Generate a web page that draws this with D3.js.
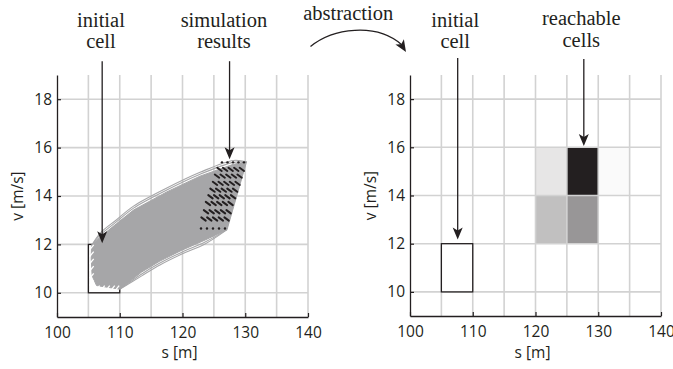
<!DOCTYPE html>
<html><head><meta charset="utf-8">
<script src="https://cdn.jsdelivr.net/npm/d3@7"></script>
<style>body{margin:0;background:#fff}</style>
</head><body>
<svg id="c" width="673" height="369"></svg>
<script>
// ---------- data ----------
const sTicks = [100, 110, 120, 130, 140];
const vTicks = [10, 12, 14, 16, 18];
const sGrid = [105, 110, 115, 120, 125, 130, 135, 140];
const sDomain = [100, 140];
const vDomain = [9, 19];
const initialCellS = [105, 110];
const initialCellV = [10, 12];

// envelope of simulated trajectories
const bandUpperS = [105.5, 106.9, 109.5, 112.2, 117.5, 122.8, 128.1, 130.2];
const bandUpperV = [11.95, 12.31, 12.86, 13.42, 14.17, 14.82, 15.31, 15.41];
const bandLowerS = [127.1, 123.6, 119.9, 116.4, 113.5, 110.0];
const bandLowerV = [12.61, 12.18, 11.76, 11.31, 10.86, 10.15];
const bandCornerS = [106.3, 105.6, 105.45];
const bandCornerV = [10.3, 10.7, 11.4];
const strandOffsets = [0.08, 0.16];
const hatchLeftV = [10.3, 10.6, 10.9, 11.2, 11.5, 11.78];
const hatchBottomS = [105.4, 106.2, 107.0, 107.8, 108.6, 109.3];

// simulation end points: rows of velocity, s values per row
const finalRowV = [15.39, 15.10, 14.82, 14.52, 14.24, 13.97, 13.69, 13.35, 13.05, 12.66];
const finalRowS = [
  [126.29, 127.17, 128.05, 128.92, 129.80],
  [125.90, 126.79, 127.68, 128.57, 129.46],
  [125.50, 126.40, 127.30, 128.20, 129.10],
  [125.18, 126.08, 126.98, 127.88, 128.78],
  [124.78, 125.68, 126.58, 127.48, 128.38],
  [124.46, 125.36, 126.26, 127.16, 128.06],
  [124.06, 124.96, 125.86, 126.76, 127.66],
  [123.75, 124.65, 125.55, 126.45, 127.35],
  [123.35, 124.27, 125.19, 126.11, 127.03],
  [122.95, 123.90, 124.86, 125.82, 126.77]
];

// reachable cells (abstraction)
const reachS = [120, 125, 130, 120, 125];
const reachV = [14, 14, 14, 12, 12];
const reachP = [0.055, 0.50, 0.012, 0.141, 0.234];

// annotations
const leftArrowS = [107.2, 127.5];
const leftArrowTopV = [19.57, 19.57];
const leftArrowTipV = [12.05, 15.52];
const rightArrowS = [107.6, 127.7];
const rightArrowTopV = [19.71, 19.66];
const rightArrowTipV = [12.17, 16.05];
const leftLabels = [["initial", "cell"], ["simulation", "results"]];
const rightLabels = [["initial", "cell"], ["reachable", "cells"]];

// ---------- drawing ----------
const svg = d3.select("#c");
const serif = "'Liberation Serif', 'Times New Roman', serif";
const sans = "'Open Sans', 'DejaVu Sans', sans-serif";
const ink = "#231f20";
const bandGray = "#a6a6a8";

function panel(x0, x1, yTop, yBot) {
  const x = d3.scaleLinear().domain(sDomain).range([x0, x1]);
  const y = d3.scaleLinear().domain(vDomain).range([yBot, yTop]);
  const g = svg.append("g");
  return {x, y, g};
}

function drawGrid(p) {
  const {x, y, g} = p;
  const gg = g.append("g");
  gg.selectAll("line.v").data(sGrid).join("line")
    .attr("x1", d => x(d)).attr("x2", d => x(d))
    .attr("y1", y(vDomain[1])).attr("y2", y(vDomain[0]))
    .attr("stroke", "#d2d2d2").attr("stroke-width", 1.6);
  gg.selectAll("line.h").data(vTicks).join("line")
    .attr("x1", x(sDomain[0])).attr("x2", x(sDomain[1]))
    .attr("y1", d => y(d)).attr("y2", d => y(d))
    .attr("stroke", "#d2d2d2").attr("stroke-width", 1.6);
}

function drawAxes(p) {
  const {x, y, g} = p;
  const ax = g.append("g").attr("transform", `translate(0,${y(vDomain[0])})`)
    .call(d3.axisBottom(x).tickValues(sTicks).tickSizeInner(-4).tickSizeOuter(0).tickPadding(10));
  const ay = g.append("g").attr("transform", `translate(${x(sDomain[0])},0)`)
    .call(d3.axisLeft(y).tickValues(vTicks).tickSizeInner(-4).tickSizeOuter(0).tickPadding(5));
  [ax, ay].forEach(a => {
    a.select(".domain").attr("stroke", ink).attr("stroke-width", 1.3);
    a.selectAll(".tick line").attr("stroke", ink).attr("stroke-width", 1.2);
    a.selectAll(".tick text").attr("font-family", sans).attr("font-size", 15.5).attr("fill", ink);
  });
  ax.selectAll(".tick text").attr("dy", "0.71em");
  const cx = (x.range()[0] + x.range()[1]) / 2;
  g.append("text").attr("x", cx - 3).attr("y", 358)
    .attr("text-anchor", "middle").attr("font-family", sans).attr("font-size", 15.5).attr("fill", ink)
    .text("s [m]");
  const cy = (y.range()[0] + y.range()[1]) / 2;
  g.append("text")
    .attr("transform", `translate(${x(sDomain[0]) - 34},${cy}) rotate(-90)`)
    .attr("text-anchor", "middle").attr("font-family", sans).attr("font-size", 15.5).attr("fill", ink)
    .text("v [m/s]");
}

function drawArrow(p, s, vTop, vTip) {
  const {x, y, g} = p;
  const xx = x(s);
  g.append("line").attr("x1", xx).attr("x2", xx).attr("y1", y(vTop)).attr("y2", y(vTip) - 6)
    .attr("stroke", ink).attr("stroke-width", 1.3);
  g.append("path").attr("d", "M0,0 L-5,-12 L0,-9 L5,-12 Z")
    .attr("transform", `translate(${xx},${y(vTip)})`).attr("fill", ink);
}

function drawLabel(p, s, lines, base1) {
  const {x, g} = p;
  lines.forEach((t, i) => {
    g.append("text").attr("x", x(s)).attr("y", base1[i])
      .attr("text-anchor", "middle").attr("font-family", serif).attr("font-size", 20.5)
      .attr("fill", ink).text(t);
  });
}

// ---- left panel ----
const L = panel(57, 308, 75, 317);
drawGrid(L);
// initial cell
L.g.append("rect")
  .attr("x", L.x(initialCellS[0])).attr("y", L.y(initialCellV[1]))
  .attr("width", L.x(initialCellS[1]) - L.x(initialCellS[0]))
  .attr("height", L.y(initialCellV[0]) - L.y(initialCellV[1]))
  .attr("fill", "none").attr("stroke", ink).attr("stroke-width", 1.3);

// trajectory band
const upperPts = bandUpperS.map((s, i) => [s, bandUpperV[i]]);
const lowerPts = bandLowerS.map((s, i) => [s, bandLowerV[i]]);
const cornerPts = bandCornerS.map((s, i) => [s, bandCornerV[i]]);
const lineGen = d3.line().x(d => L.x(d[0])).y(d => L.y(d[1])).curve(d3.curveCatmullRom);
const polyPts = upperPts.concat(lowerPts, cornerPts);
L.g.append("path")
  .attr("d", d3.line().x(d => L.x(d[0])).y(d => L.y(d[1])).curve(d3.curveLinearClosed)(polyPts))
  .attr("fill", bandGray).attr("stroke", bandGray).attr("stroke-width", 1).attr("stroke-linejoin", "round");

// edge strands
strandOffsets.forEach(off => {
  const up = upperPts.map((d, i) => (i === 0 || i === upperPts.length - 1) ? d : [d[0], d[1] + off]);
  L.g.append("path").attr("d", lineGen(up)).attr("fill", "none")
    .attr("stroke", bandGray).attr("stroke-width", 1.1);
  const lo = lowerPts.map((d, i) => (i === 0 || i === lowerPts.length - 1) ? d : [d[0], d[1] - off]);
  L.g.append("path").attr("d", lineGen(lo)).attr("fill", "none")
    .attr("stroke", bandGray).attr("stroke-width", 1.1);
});

// white gaps (trajectory starts) along the initial cell edges
hatchLeftV.forEach(v => {
  L.g.append("line")
    .attr("x1", L.x(initialCellS[0] + 0.2)).attr("y1", L.y(v))
    .attr("x2", L.x(initialCellS[0] + 0.85)).attr("y2", L.y(v + 0.2))
    .attr("stroke", "#ffffff").attr("stroke-width", 1.3);
});
hatchBottomS.forEach(s => {
  L.g.append("line")
    .attr("x1", L.x(s)).attr("y1", L.y(initialCellV[0] + 0.1))
    .attr("x2", L.x(s + 0.6)).attr("y2", L.y(initialCellV[0] + 0.3))
    .attr("stroke", "#ffffff").attr("stroke-width", 1.3);
});

// end points
finalRowV.forEach((v, r) => {
  finalRowS[r].forEach(s => {
    if (r === 0 || r === finalRowV.length - 1) {
      L.g.append("circle").attr("cx", L.x(s)).attr("cy", L.y(v)).attr("r", 1.2).attr("fill", ink);
    } else {
      L.g.append("line")
        .attr("x1", L.x(s) - 2.2).attr("y1", L.y(v) - 1.6)
        .attr("x2", L.x(s) + 2.2).attr("y2", L.y(v) + 1.6)
        .attr("stroke", ink).attr("stroke-width", 2).attr("stroke-linecap", "round");
    }
  });
});

drawAxes(L);
leftArrowS.forEach((s, i) => drawArrow(L, s, leftArrowTopV[i], leftArrowTipV[i]));
drawLabel(L, 107.0, leftLabels[0], [27, 48]);
drawLabel(L, 126.6, leftLabels[1], [27, 48]);

// ---- right panel ----
const R = panel(410, 661, 75, 316);
const shade = d3.scaleLinear().domain([0, 0.5]).range(["#ffffff", ink]);
R.g.selectAll("rect.cell").data(reachS).join("rect")
  .attr("x", (d) => R.x(d)).attr("y", (d, i) => R.y(reachV[i] + 2))
  .attr("width", R.x(5 + sDomain[0]) - R.x(sDomain[0]))
  .attr("height", (d, i) => R.y(reachV[i]) - R.y(reachV[i] + 2))
  .attr("fill", (d, i) => shade(reachP[i]));
drawGrid(R);
R.g.append("rect")
  .attr("x", R.x(initialCellS[0])).attr("y", R.y(initialCellV[1]))
  .attr("width", R.x(initialCellS[1]) - R.x(initialCellS[0]))
  .attr("height", R.y(initialCellV[0]) - R.y(initialCellV[1]))
  .attr("fill", "#fff").attr("stroke", ink).attr("stroke-width", 1.3);
drawAxes(R);
rightArrowS.forEach((s, i) => drawArrow(R, s, rightArrowTopV[i], rightArrowTipV[i]));
drawLabel(R, 107.2, rightLabels[0], [27, 48]);
drawLabel(R, 127.3, rightLabels[1], [25, 46.5]);

// ---- abstraction arrow between panels ----
const absStart = [L.x(sDomain[1]) + 2.5, 46.5];
const absEnd = [R.x(sDomain[0]) - 4, 52];
svg.append("text").attr("x", (absStart[0] + absEnd[0]) / 2 - 10).attr("y", 20)
  .attr("text-anchor", "middle").attr("font-family", serif).attr("font-size", 20.5).attr("fill", ink)
  .text("abstraction");
const absPath = d3.path();
absPath.moveTo(absStart[0], absStart[1]);
absPath.bezierCurveTo(absStart[0] + 22, absStart[1] - 18, absEnd[0] - 30, absEnd[1] - 30, absEnd[0] - 4, absEnd[1] - 7);
svg.append("path").attr("d", absPath.toString()).attr("fill", "none").attr("stroke", ink).attr("stroke-width", 1.3);
svg.append("path").attr("d", "M0,0 L-5,-12 L0,-9 L5,-12 Z")
  .attr("transform", `translate(${absEnd[0]},${absEnd[1]}) rotate(-32)`).attr("fill", ink);
</script>
</body></html>
